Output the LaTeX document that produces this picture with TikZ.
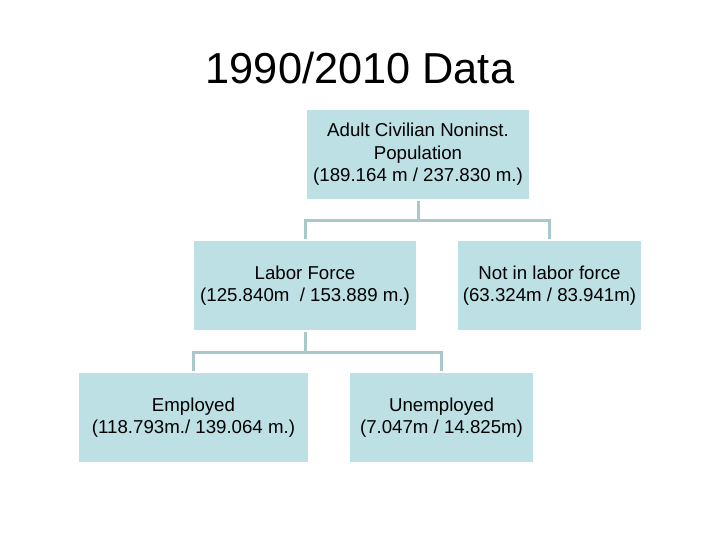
\documentclass[tikz,border=0pt]{standalone}
\usepackage{fontspec}
\setmainfont{Liberation Sans}
\definecolor{boxfill}{HTML}{BCE0E4}
\definecolor{linkcol}{HTML}{A8C8CC}
\begin{document}
\begin{tikzpicture}[x=0.75pt,y=-0.75pt,
  orgbox/.style={draw=none,fill=boxfill,inner sep=0pt,align=center,
    font=\fontsize{14}{16.9}\selectfont,minimum height=66.75pt},
  link/.style={draw=linkcol,line width=2.25pt,shorten <=1.5pt,shorten >=1.5pt}]
\useasboundingbox (0,0) rectangle (720,540);
\node[font=\fontsize{32.5}{36}\selectfont] (title) at (360,68) {1990/2010 Data};
\node[orgbox,minimum width=166.5pt] (top) at (418,154.5) {Adult Civilian Noninst.\\Population\\(189.164 m / 237.830 m.)};
\node[orgbox,minimum width=166.5pt] (labor) at (305,285.5) {Labor Force\\(125.840m~ / 153.889 m.)};
\node[orgbox,minimum width=137.25pt] (notlf) at (549.5,285.5) {Not in labor force\\(63.324m / 83.941m)};
\node[orgbox,minimum width=171.75pt] (emp) at (193.5,417.5) {Employed\\(118.793m./ 139.064 m.)};
\node[orgbox,minimum width=137.25pt] (unemp) at (441.5,417.5) {Unemployed\\(7.047m / 14.825m)};
\coordinate (j1) at (418,220);
\coordinate (j2) at (305,352);
\draw[link,shorten >=0pt] (top.south) -- (j1);
\draw[link,shorten <=0pt] (j1) -| (labor.north);
\draw[link,shorten <=0pt] (j1) -| (notlf.north);
\draw[link,shorten >=0pt] (labor.south) -- (j2);
\draw[link,shorten <=0pt] (j2) -| (emp.north);
\draw[link,shorten <=0pt] (j2) -| (unemp.north);
\end{tikzpicture}
\end{document}
